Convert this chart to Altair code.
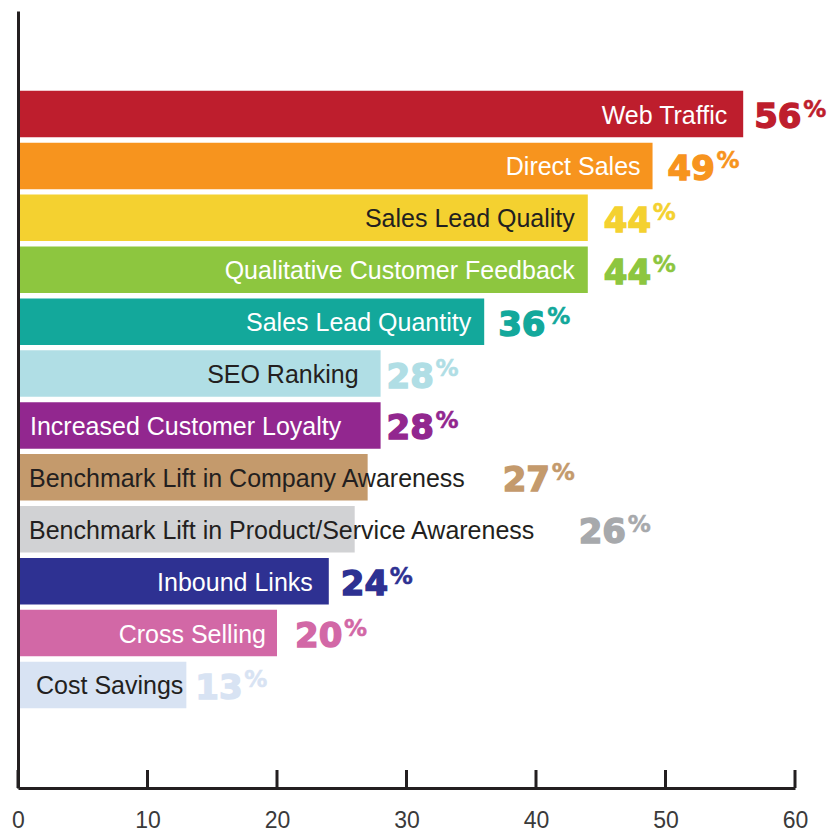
import altair as alt
import pandas as pd

# ---------------- data ----------------
categories = [
    "Web Traffic",
    "Direct Sales",
    "Sales Lead Quality",
    "Qualitative Customer Feedback",
    "Sales Lead Quantity",
    "SEO Ranking",
    "Increased Customer Loyalty",
    "Benchmark Lift in Company Awareness",
    "Benchmark Lift in Product/Service Awareness",
    "Inbound Links",
    "Cross Selling",
    "Cost Savings",
]
values = [56, 49, 44, 44, 36, 28, 28, 27, 26, 24, 20, 13]
x_ticks = [0, 10, 20, 30, 40, 50, 60]

# ---------------- styles ----------------
bar_colors = ["#BE1E2D", "#F7941E", "#F4D130", "#8DC63F", "#13A89B", "#B0DEE5",
              "#92278F", "#C49A6C", "#D1D2D4", "#2E3192", "#D268A6", "#D8E3F3"]
number_colors = ["#BE1E2D", "#F7941E", "#F4D130", "#8DC63F", "#13A89B", "#B0DEE5",
                 "#92278F", "#C49A6C", "#A7A9AC", "#2E3192", "#D268A6", "#D8E3F3"]
DARK = "#231F20"
label_colors = ["white", "white", DARK, "white", "white", DARK,
                "white", DARK, DARK, "white", "white", DARK]
# label anchoring: "end" = right-aligned inside bar end, "start" = left-aligned at axis
label_anchor = ["end", "end", "end", "end", "end", "end",
                "start", "start", "start", "end", "end", "end"]
label_dx = [-16, -12, -13, -13, -13, -22, 12, 11, 11, -16, -11, -3]
number_dx = [11, 15, 16, 16, 14, 6, 6, 135, 224, 12, 18, 9]

AXIS_COLOR = "#231F20"
LABEL_FONT = "Liberation Sans"
NUM_FONT = "DejaVu Sans"

df = pd.DataFrame({"category": categories, "value": values})

# empty slots above/below the bars give the extra whitespace of the original
y_domain = ["_top_"] + categories + ["_bottom_"]

x_scale = alt.Scale(domain=[0, 60], nice=False, zero=True)
x_axis = alt.Axis(values=x_ticks, ticks=False, grid=False, title=None,
                  domainWidth=3, domainColor=AXIS_COLOR, labelFlush=False,
                  labelFont=LABEL_FONT, labelFontSize=23, labelColor="#3a3a3a",
                  labelPadding=21, zindex=1)
y_enc = alt.Y("category:N",
              scale=alt.Scale(domain=y_domain, paddingInner=0.104, paddingOuter=0.537),
              axis=alt.Axis(labels=False, ticks=False, grid=False, title=None,
                            domainWidth=3, domainColor=AXIS_COLOR, zindex=1))

base = alt.Chart(df)

bars = base.mark_bar().encode(
    x=alt.X("value:Q", scale=x_scale, axis=x_axis),
    y=y_enc,
    color=alt.Color("category:N", scale=alt.Scale(domain=categories, range=bar_colors), legend=None),
)

layers = [bars]
for i, cat in enumerate(categories):
    sel = base.transform_filter(alt.FieldEqualPredicate(field="category", equal=cat))
    if label_anchor[i] == "end":
        lab = sel.mark_text(align="right", baseline="alphabetic", dx=label_dx[i], dy=9.5,
                            font=LABEL_FONT, fontSize=25, color=label_colors[i]).encode(
            x=alt.X("value:Q", scale=x_scale, axis=x_axis), y=y_enc, text="category:N")
    else:
        lab = sel.mark_text(align="left", baseline="alphabetic", dx=label_dx[i], dy=9.5,
                            font=LABEL_FONT, fontSize=25, color=label_colors[i]).encode(
            x=alt.datum(0, scale=x_scale, axis=x_axis), y=y_enc, text="category:N")
    num = sel.mark_text(align="left", baseline="alphabetic", dx=number_dx[i], dy=14,
                        font=NUM_FONT, fontWeight="bold", fontSize=34,
                        color=number_colors[i], stroke=number_colors[i],
                        strokeWidth=1.4).encode(
        x=alt.X("value:Q", scale=x_scale, axis=x_axis), y=y_enc,
        text=alt.Text("value:Q", format="d"))
    pct = sel.mark_text(align="left", baseline="alphabetic", dx=number_dx[i] + 49, dy=2.5,
                        font=NUM_FONT, fontWeight="bold", fontSize=23,
                        color=number_colors[i], stroke=number_colors[i],
                        strokeWidth=0.5, text="%").encode(
        x=alt.X("value:Q", scale=x_scale, axis=x_axis), y=y_enc)
    layers += [lab, num, pct]

ticks = alt.Chart(pd.DataFrame({"tick": x_ticks})).mark_rule(
    strokeWidth=3, color=AXIS_COLOR).encode(
    x=alt.X("tick:Q", scale=x_scale, axis=x_axis),
    y=alt.value(759), y2=alt.value(777))
layers.append(ticks)

chart = alt.layer(*layers).properties(
    width=777, height=777,
    autosize=alt.AutoSizeParams(type="none"),
    padding={"left": 10, "top": 3, "right": 32, "bottom": 44},
).configure_view(stroke=None)

chart.save("out.html", embed_options={"renderer": "svg", "actions": False})
